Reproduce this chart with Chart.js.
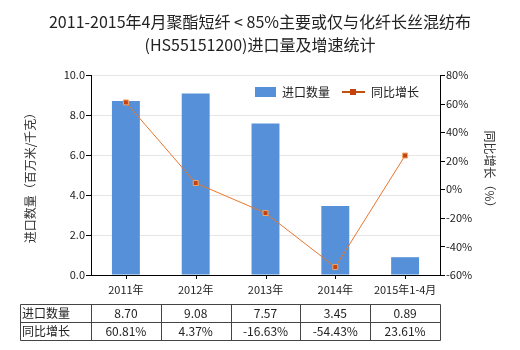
<!DOCTYPE html>
<html>
<head>
<meta charset="utf-8">
<script src="https://cdn.jsdelivr.net/npm/chart.js@4.4.0/dist/chart.umd.min.js"></script>
<style>
  body { margin: 0; background: #fff; }
  canvas { display: block; }
</style>
</head>
<body>
<canvas id="chart" width="520" height="350"></canvas>
<script>
const categories = ['2011年', '2012年', '2013年', '2014年', '2015年1-4月'];
const importQty = [8.70, 9.08, 7.57, 3.45, 0.89];
const growthPct = [60.81, 4.37, -16.63, -54.43, 23.61];
const titleLines = ['2011-2015年4月聚酯短纤 < 85%主要或仅与化纤长丝混纺布', '(HS55151200)进口量及增速统计'];
const rowNames = ['进口数量', '同比增长'];

const FONT = '"Noto Sans CJK SC", "Microsoft YaHei", sans-serif';
const barColor = '#5590d8';
const lineColor = '#e8762a';

// title, axis titles, legend, tick marks and the data table
const extras = {
  id: 'extras',
  afterDraw(chart) {
    const ctx = chart.ctx;
    const x = chart.scales.x, y = chart.scales.y, y2 = chart.scales.y2;
    const area = chart.chartArea;
    ctx.save();

    ctx.fillStyle = '#222';
    ctx.font = '16px ' + FONT;
    ctx.textAlign = 'center';
    ctx.textBaseline = 'middle';
    ctx.fillText(titleLines[0], 260, 22);
    ctx.fillText(titleLines[1], 260, 45);

    // tick marks
    ctx.strokeStyle = '#000';
    ctx.lineWidth = 1;
    ctx.beginPath();
    y.ticks.forEach(t => {
      const py = Math.round(y.getPixelForValue(t.value)) + 0.5;
      ctx.moveTo(area.left - 5, py); ctx.lineTo(area.left, py);
    });
    y2.ticks.forEach(t => {
      const py = Math.round(y2.getPixelForValue(t.value)) + 0.5;
      ctx.moveTo(area.right, py); ctx.lineTo(area.right + 5, py);
    });
    categories.forEach((c, i) => {
      const px = Math.round(x.getPixelForValue(i)) + 0.5;
      ctx.moveTo(px, area.bottom); ctx.lineTo(px, area.bottom + 4);
    });
    ctx.stroke();

    // axis titles
    ctx.font = '12px ' + FONT;
    ctx.fillStyle = '#333';
    ctx.save();
    ctx.translate(30, (area.top + area.bottom) / 2);
    ctx.rotate(-Math.PI / 2);
    ctx.fillText('进口数量（百万米/千克）', 0, 0);
    ctx.restore();
    ctx.save();
    ctx.translate(490, 172);
    ctx.rotate(Math.PI / 2);
    ctx.fillText('同比增长（%）', 0, 0);
    ctx.restore();

    // legend
    ctx.textAlign = 'left';
    ctx.fillStyle = barColor;
    ctx.fillRect(255, 87, 21, 10);
    ctx.fillStyle = '#222';
    ctx.fillText('进口数量', 282, 92);
    ctx.strokeStyle = '#c4500f';
    ctx.lineWidth = 2;
    ctx.beginPath(); ctx.moveTo(342, 92); ctx.lineTo(365, 92); ctx.stroke();
    ctx.fillStyle = '#c4420c';
    ctx.fillRect(350, 89, 6, 6);
    ctx.fillStyle = '#222';
    ctx.fillText('同比增长', 371, 92);

    // table
    const half = (x.getPixelForValue(1) - x.getPixelForValue(0)) / 2;
    const left = 20.5, right = Math.round(x.getPixelForValue(categories.length - 1) + half) + 0.5;
    const top = 304.5, rowH = 18;
    ctx.strokeStyle = '#444';
    ctx.lineWidth = 1;
    ctx.beginPath();
    for (let r = 0; r <= rowNames.length; r++) {
      ctx.moveTo(left, top + r * rowH); ctx.lineTo(right, top + r * rowH);
    }
    ctx.moveTo(left, top); ctx.lineTo(left, top + rowNames.length * rowH);
    categories.forEach((c, i) => {
      const bx = Math.round(x.getPixelForValue(i) - half) + 0.5;
      ctx.moveTo(bx, top); ctx.lineTo(bx, top + rowNames.length * rowH);
    });
    ctx.moveTo(right, top); ctx.lineTo(right, top + rowNames.length * rowH);
    ctx.stroke();

    ctx.font = '12px ' + FONT;
    ctx.fillStyle = '#222';
    rowNames.forEach((name, r) => {
      const cy = top + r * rowH + rowH / 2;
      ctx.textAlign = 'left';
      ctx.fillText(name, 22, cy);
      ctx.textAlign = 'center';
      categories.forEach((c, i) => {
        const txt = r === 0 ? importQty[i].toFixed(2) : growthPct[i].toFixed(2) + '%';
        ctx.fillText(txt, x.getPixelForValue(i), cy);
      });
    });
    ctx.restore();
  }
};

new Chart(document.getElementById('chart').getContext('2d'), {
  data: {
    labels: categories,
    datasets: [{
      type: 'line',
      label: '同比增长',
      data: growthPct,
      yAxisID: 'y2',
      borderColor: lineColor,
      borderWidth: 1,
      pointStyle: 'rect',
      pointRadius: 3.5,
      pointBackgroundColor: '#c4420c',
      pointBorderColor: '#f5a66a',
      pointBorderWidth: 1,
      tension: 0
    }, {
      type: 'bar',
      label: '进口数量',
      data: importQty,
      yAxisID: 'y',
      backgroundColor: barColor,
      categoryPercentage: 1,
      barPercentage: 0.4
    }]
  },
  options: {
    responsive: false,
    animation: false,
    layout: { padding: { top: 75, left: 0, right: 0, bottom: 0 } },
    plugins: { legend: { display: false }, tooltip: { enabled: false } },
    scales: {
      x: {
        grid: { display: false, drawTicks: false },
        border: { color: '#000' },
        ticks: { color: '#222', font: { size: 11, family: FONT }, padding: 8, maxRotation: 0 },
        afterFit: s => { s.height = 75; }
      },
      y: {
        position: 'left',
        min: 0, max: 10,
        ticks: { stepSize: 2, color: '#222', font: { size: 11, family: FONT }, padding: 6,
          callback: v => v.toFixed(1) },
        grid: { color: '#e6e6e6', drawTicks: false },
        border: { color: '#000' },
        afterFit: s => { s.width = 91; }
      },
      y2: {
        position: 'right',
        min: -60, max: 80,
        ticks: { stepSize: 20, color: '#222', font: { size: 11, family: FONT }, padding: 6,
          callback: v => v + '%' },
        grid: { drawOnChartArea: false, drawTicks: false },
        border: { color: '#000' },
        afterFit: s => { s.width = 80; }
      }
    }
  },
  plugins: [extras]
});
</script>
</body>
</html>
